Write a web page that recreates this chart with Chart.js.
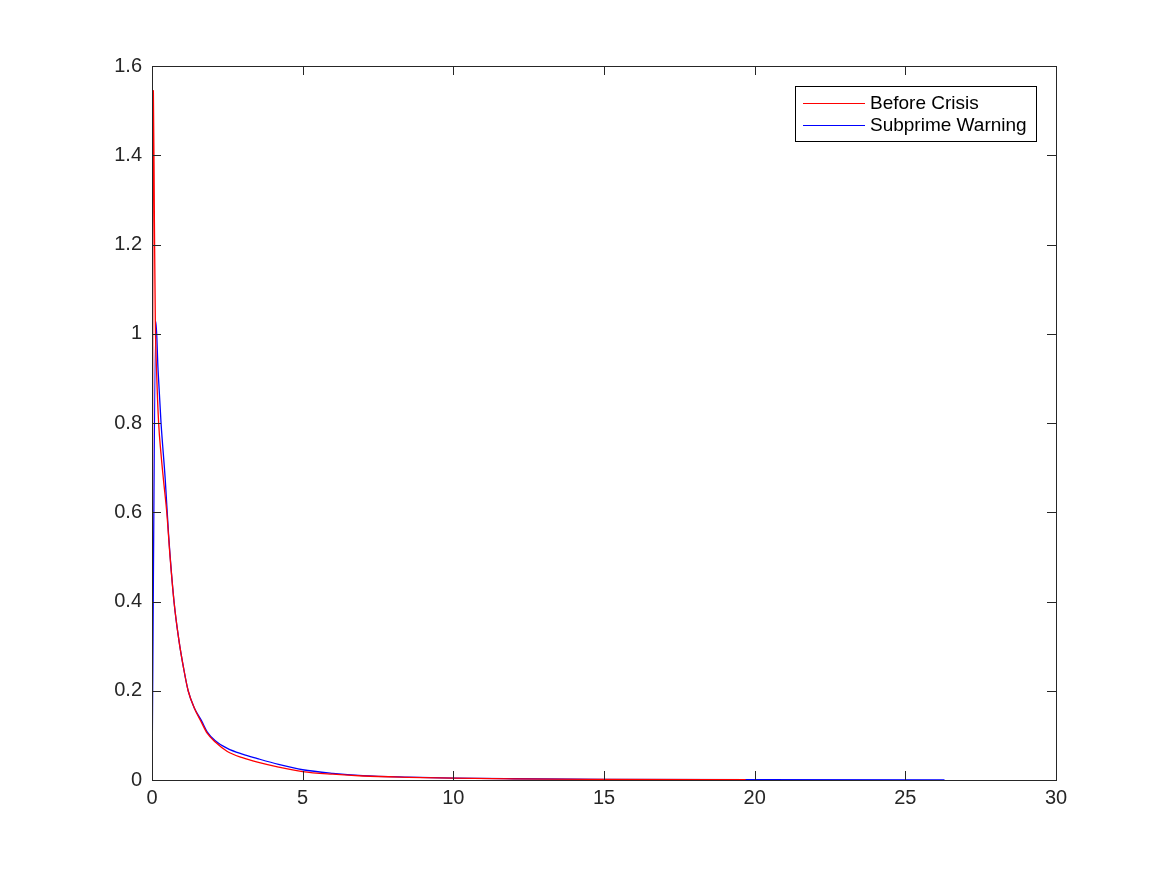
<!DOCTYPE html>
<html>
<head>
<meta charset="utf-8">
<script src="https://cdn.jsdelivr.net/npm/chart.js@4.4.1/dist/chart.umd.min.js"></script>
<style>
  html, body { margin: 0; padding: 0; background: #fff; }
  canvas { display: block; }
</style>
</head>
<body>
<canvas id="chart" width="1167" height="875"></canvas>
<script>
// values
const beforeX = [0, 0.045, 0.08, 0.11, 0.16, 0.22, 0.3, 0.38, 0.49, 0.6, 0.73, 0.9, 1.05, 1.2, 1.4, 1.65, 1.83, 2.1, 2.5, 3.0, 3.5, 4.2, 5, 6, 7, 8.5, 10, 12, 15, 19.7];
const beforeY = [0, 1.545, 1.25, 1.03, 0.9, 0.8, 0.73, 0.673, 0.6, 0.5, 0.4, 0.31, 0.25, 0.2, 0.162, 0.128, 0.105, 0.085, 0.064, 0.05, 0.04, 0.029, 0.019, 0.013, 0.009, 0.006, 0.004, 0.0025, 0.0015, 0.0008];

const warningX = [0, 0.13, 0.2, 0.3, 0.44, 0.55, 0.73, 0.9, 1.05, 1.2, 1.4, 1.65, 1.83, 2.1, 2.5, 3.0, 3.5, 4.2, 5, 6, 7, 8.5, 10, 12, 15, 20, 26.3];
const warningY = [0, 1.027, 0.92, 0.8, 0.673, 0.55, 0.4, 0.31, 0.25, 0.2, 0.162, 0.132, 0.108, 0.088, 0.071, 0.058, 0.048, 0.035, 0.023, 0.015, 0.01, 0.0065, 0.0042, 0.0028, 0.0016, 0.0007, 0.0003];

const seriesNames = ["Before Crisis", "Subprime Warning"];
const seriesColors = ["#ff0000", "#0000ff"];

const xTicks = [0, 5, 10, 15, 20, 25, 30];
const yTicks = [0, 0.2, 0.4, 0.6, 0.8, 1, 1.2, 1.4, 1.6];

const AXIS_COLOR = "#262626";
const FONT = "Liberation Sans, Arial, Helvetica, sans-serif";

function toPoints(xs, ys) {
    return xs.map((x, i) => ({ x, y: ys[i] }));
}

// box around the plot, inward ticks on all four sides, legend in the corner
const matlabFrame = {
    id: "matlabFrame",
    afterDatasetsDraw(chart) {
        const { ctx, chartArea: a, scales } = chart;
        const len = 9;
        ctx.save();
        ctx.strokeStyle = AXIS_COLOR;
        ctx.lineWidth = 1;
        ctx.beginPath();
        xTicks.forEach((v) => {
            const px = Math.round(scales.x.getPixelForValue(v)) + 0.5;
            ctx.moveTo(px, a.bottom);
            ctx.lineTo(px, a.bottom - len);
            ctx.moveTo(px, a.top);
            ctx.lineTo(px, a.top + len);
        });
        yTicks.forEach((v) => {
            const py = Math.round(scales.y.getPixelForValue(v)) + 0.5;
            ctx.moveTo(a.left, py);
            ctx.lineTo(a.left + len, py);
            ctx.moveTo(a.right, py);
            ctx.lineTo(a.right - len, py);
        });
        ctx.stroke();
        ctx.strokeRect(a.left + 0.5, a.top + 0.5, a.right - a.left, a.bottom - a.top);

        // legend
        const bx = a.right - 261, by = a.top + 20, bw = 241, bh = 55;
        ctx.fillStyle = "#fff";
        ctx.fillRect(bx, by, bw, bh);
        ctx.strokeStyle = "#000";
        ctx.strokeRect(bx + 0.5, by + 0.5, bw, bh);
        ctx.font = "19px " + FONT;
        ctx.textBaseline = "middle";
        chart.data.datasets.forEach((ds, i) => {
            const cy = by + 17 + i * 22;
            ctx.strokeStyle = ds.borderColor;
            ctx.lineWidth = 1;
            ctx.beginPath();
            ctx.moveTo(bx + 8, cy + 0.5);
            ctx.lineTo(bx + 70, cy + 0.5);
            ctx.stroke();
            ctx.fillStyle = "#000";
            ctx.fillText(ds.label, bx + 75, cy + 1);
        });
        ctx.restore();
    },
};

new Chart(document.getElementById("chart"), {
    type: "line",
    data: {
        datasets: [
            {
                label: seriesNames[0],
                data: toPoints(beforeX, beforeY),
                borderColor: seriesColors[0],
            },
            {
                label: seriesNames[1],
                data: toPoints(warningX, warningY),
                borderColor: seriesColors[1],
            },
        ],
    },
    options: {
        responsive: false,
        animation: false,
        layout: { padding: { left: 0, top: 66, right: 111, bottom: 0 } },
        elements: {
            point: { radius: 0 },
            line: { borderWidth: 1.3, cubicInterpolationMode: "monotone", fill: false },
        },
        plugins: {
            legend: { display: false },
            tooltip: { enabled: false },
        },
        scales: {
            x: {
                type: "linear",
                min: 0,
                max: 30,
                afterFit: (s) => { s.height = 95; },
                afterBuildTicks: (s) => { s.ticks = xTicks.map((v) => ({ value: v })); },
                grid: { display: false },
                border: { display: false },
                ticks: {
                    padding: -2,
                    color: AXIS_COLOR,
                    font: { family: FONT, size: 20 },
                    maxRotation: 0,
                    callback: (v) => String(v),
                },
            },
            y: {
                type: "linear",
                min: 0,
                max: 1.6,
                afterFit: (s) => { s.width = 152; },
                afterBuildTicks: (s) => { s.ticks = yTicks.map((v) => ({ value: v })); },
                grid: { display: false },
                border: { display: false },
                ticks: {
                    padding: 2,
                    color: AXIS_COLOR,
                    font: { family: FONT, size: 20 },
                    callback: (v) => String(+v.toFixed(1)),
                },
            },
        },
    },
    plugins: [matlabFrame],
});
</script>
</body>
</html>
